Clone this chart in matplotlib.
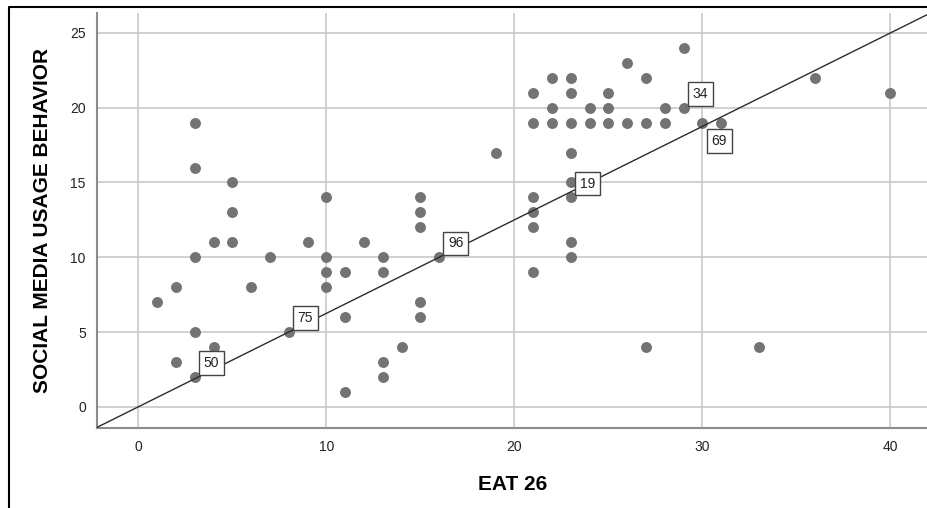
import matplotlib
matplotlib.use('Agg')
import matplotlib.pyplot as plt
from matplotlib.lines import Line2D

plt.rcParams['font.family'] = ['Liberation Sans', 'DejaVu Sans']

# EAT 26 score vs social media usage behaviour (one entry per case)
eat26 = [1, 2, 2, 3, 3, 3, 3, 3, 4, 4, 5, 5, 5, 6, 7, 8, 9,
         10, 10, 10, 10, 11, 11, 11, 12, 13, 13, 13, 13, 14,
         15, 15, 15, 15, 15, 16, 19,
         21, 21, 21, 21, 21, 21, 22, 22, 22,
         23, 23, 23, 23, 23, 23, 23, 23, 24, 24, 25, 25, 25,
         26, 26, 27, 27, 27, 28, 28, 29, 29, 30, 31, 33, 36, 40]
social = [7, 8, 3, 19, 16, 10, 5, 2, 11, 4, 15, 13, 11, 8, 10, 5, 11,
          14, 10, 9, 8, 9, 6, 1, 11, 10, 9, 3, 2, 4,
          14, 13, 12, 7, 6, 10, 17,
          21, 19, 14, 13, 12, 9, 22, 20, 19,
          22, 21, 19, 17, 15, 14, 11, 10, 20, 19, 21, 20, 19,
          23, 19, 22, 19, 4, 20, 19, 24, 20, 19, 19, 4, 22, 21]

# labelled cases: case id and the point it marks
case_ids = ['50', '75', '96', '19', '34', '69']
case_x = [3, 8, 16, 23, 29, 30]
case_y = [2, 5, 10, 14, 20, 19]
case_below = [False, False, False, False, False, True]

fit_slope = 0.625

fig = plt.figure(figsize=(9.28, 5.08), dpi=100)
ax = fig.add_axes([0.1045, 0.158, 0.8955, 0.816])

ax.grid(True, color='#c8c8c8', linewidth=1.2)
ax.set_axisbelow(True)

ax.scatter(eat26, social, s=62, color='#737373', zorder=3, linewidths=0)
ax.axline((0, 0), slope=fit_slope, color='#2b2b2b', linewidth=1.0, zorder=4)

for cid, cx, cy, below in zip(case_ids, case_x, case_y, case_below):
    offset = (12, -13) if below else (12, 10)
    ax.annotate(cid, (cx, cy), xytext=offset, textcoords='offset points',
                ha='center', va='center', fontsize=10, color='#222222', zorder=5,
                bbox=dict(boxstyle='square,pad=0.35', fc='white', ec='#444444', lw=1.0))

ax.set_xlim(-2.2, 42.0)
ax.set_ylim(-1.4, 26.32)
ax.set_xticks([0, 10, 20, 30, 40])
ax.set_yticks([0, 5, 10, 15, 20, 25])
ax.tick_params(length=0, labelsize=10, colors='#222222')
ax.tick_params(axis='x', pad=9)
ax.tick_params(axis='y', pad=8)

for side in ['top', 'right']:
    ax.spines[side].set_visible(False)
for side in ['left', 'bottom']:
    ax.spines[side].set_color('#8c8c8c')
    ax.spines[side].set_linewidth(1.5)

ax.set_xlabel('EAT 26', fontsize=15, fontweight='bold', labelpad=15)
ax.set_ylabel('SOCIAL MEDIA USAGE BEHAVIOR', fontsize=15, fontweight='bold', labelpad=13)

# outer frame (top and left edges)
fig.add_artist(Line2D([9 / 928, 9 / 928, 1.0], [0.0, 1 - 7 / 508, 1 - 7 / 508],
                      transform=fig.transFigure, color='black', linewidth=1.5))

fig.savefig('out.png', dpi=100)
